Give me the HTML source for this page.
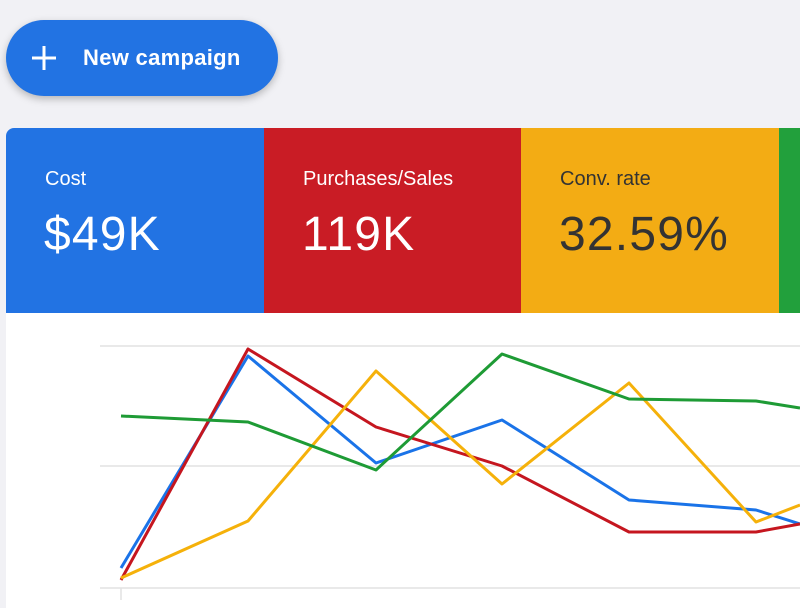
<!DOCTYPE html>
<html><head><style>
body{margin:0;width:800px;height:600px;background:#f1f1f5;overflow:hidden;position:relative;font-family:"Liberation Sans",sans-serif}
.btn{position:absolute;left:6px;top:20px;width:272px;height:76px;border-radius:38px;background:#2273e3;box-shadow:0 3px 8px rgba(0,0,0,.25);color:#fff}
.btn span{position:absolute;left:77px;top:25px;font-size:22px;font-weight:bold;letter-spacing:0.3px}
.card{position:absolute;left:6px;top:128px;width:800px;height:480px;background:#fff;border-radius:8px 0 0 0;overflow:hidden}
.t{position:absolute;top:0;height:185px}
.l{position:absolute;left:39px;top:40px;font-size:20px}
.v{position:absolute;left:38px;top:79px;font-size:48px;letter-spacing:1.2px}
</style></head><body>
<div class="btn"><svg style="position:absolute;left:24px;top:24px" width="28" height="28"><path d="M14 2V26M2 14H26" stroke="#fff" stroke-width="3"/></svg><span>New campaign</span></div>
<div class="card">
<div class="t" style="left:0;width:258px;background:#2273e3;color:#fff"><div class="l">Cost</div><div class="v">$49K</div></div>
<div class="t" style="left:258px;width:257px;background:#c91c25;color:#fff"><div class="l">Purchases/Sales</div><div class="v">119K</div></div>
<div class="t" style="left:515px;width:258px;background:#f3ac14;color:#333"><div class="l">Conv. rate</div><div class="v">32.59%</div></div>
<div class="t" style="left:773px;width:40px;background:#22a03c"></div>
</div>
<svg style="position:absolute;left:0;top:0" width="800" height="600">
<g stroke="#e2e2e2" stroke-width="1.5"><path d="M100 346H800M100 466H800M100 588H800M121 588V600"/></g>
<g fill="none" stroke-width="3" stroke-linejoin="round">
<polyline stroke="#1a73e8" points="121,568 248,356 376,463 502,420 629,500 756,510 800,524"/>
<polyline stroke="#c5161f" points="121,580 248,349 376,427 502,466 629,532 756,532 800,524"/>
<polyline stroke="#f5b10a" points="121,578 248,521 376,371 502,484 629,383 756,522 800,505"/>
<polyline stroke="#1e9b35" points="121,416 248,422 376,470 502,354 629,399 756,401 800,408"/>
</g></svg>
</body></html>
